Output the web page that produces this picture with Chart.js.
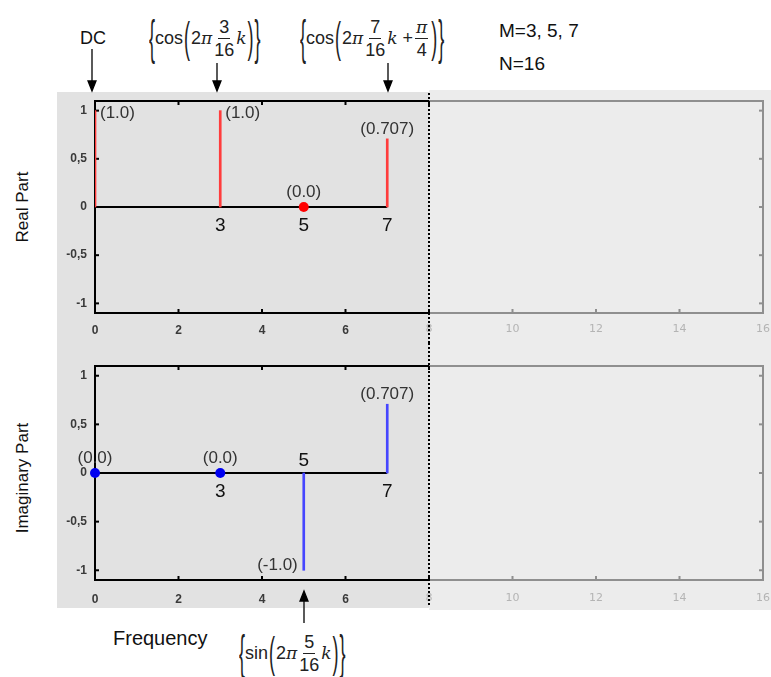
<!DOCTYPE html>
<html>
<head>
<meta charset="utf-8">
<script src="https://cdn.jsdelivr.net/npm/chart.js@4.4.1/dist/chart.umd.min.js"></script>
<style>
body { margin: 0; width: 771px; height: 677px; background: #fff; position: relative; overflow: hidden;
       font-family: "Liberation Sans", Arial, sans-serif; color: #111; }
.abs { position: absolute; }
#bgL { left: 57px; top: 92px; width: 372px; height: 516px; background: #e2e2e2; }
#bgR { left: 429px; top: 90px; width: 342px; height: 520px; background: #ececec; }
canvas { position: absolute; left: 57px; }
#realChart { top: 93px; }
#imagChart { top: 343px; }
.txt { position: absolute; white-space: nowrap; line-height: 1; }
.side { font-size: 17px; transform: translate(-50%, -50%) rotate(-90deg); }
.f { position: absolute; display: flex; align-items: center; font-size: 18px; line-height: 1; color: #222; white-space: nowrap; }
.f .br { display: inline-block; font-size: 18px; transform: scaleY(2.7); font-weight: 300; }
.f .pa { display: inline-block; font-size: 18px; transform: scaleY(2.4); font-weight: 300; margin: 0 1px; }
.f .fr { display: inline-flex; flex-direction: column; align-items: center; margin: 0 2px; }
.f .fr span:first-child { border-bottom: 1px solid #222; padding: 0 1px 2px; }
.f .fr span:last-child { padding-top: 2px; }
.f i { font-family: "DejaVu Serif", serif; font-size: 17px; }
</style>
</head>
<body>
<div id="bgL" class="abs"></div>
<div id="bgR" class="abs"></div>
<canvas id="realChart" width="714" height="250"></canvas>
<canvas id="imagChart" width="714" height="264"></canvas>

<div class="txt" style="left:80px;top:29px;font-size:18px;">DC</div>
<div class="txt" style="left:499px;top:21px;font-size:19px;">M=3, 5, 7</div>
<div class="txt" style="left:499px;top:54px;font-size:19px;">N=16</div>
<div class="txt side" style="left:22px;top:207px;">Real Part</div>
<div class="txt side" style="left:22px;top:478px;">Imaginary Part</div>
<div class="txt" style="left:113px;top:628px;font-size:20px;">Frequency</div>

<div class="f" style="left:149px;top:13px;height:50px;">
  <span class="br">{</span><span>cos</span><span class="pa">(</span><span>2<i>π</i></span>
  <span class="fr"><span>3</span><span>16</span></span><i>k</i><span class="pa">)</span><span class="br">}</span>
</div>
<div class="f" style="left:300px;top:13px;height:50px;">
  <span class="br">{</span><span>cos</span><span class="pa">(</span><span>2<i>π</i></span>
  <span class="fr"><span>7</span><span>16</span></span><i>k</i><span>&nbsp;+</span>
  <span class="fr"><span><i>π</i></span><span>4</span></span><span class="pa">)</span><span class="br">}</span>
</div>
<div class="f" style="left:239px;top:628px;height:50px;">
  <span class="br">{</span><span>sin</span><span class="pa">(</span><span>2<i>π</i></span>
  <span class="fr"><span>5</span><span>16</span></span><i>k</i><span class="pa">)</span><span class="br">}</span>
</div>

<svg class="abs" style="left:0;top:0" width="771" height="677">
  <g stroke="#000" stroke-width="1.3" fill="#000">
    <line x1="92" y1="49" x2="92" y2="84"/><polygon points="88,81 96,81 92,91"/>
    <line x1="217" y1="63" x2="217" y2="84"/><polygon points="213,81 221,81 217,91"/>
    <line x1="388" y1="63" x2="388" y2="84"/><polygon points="384,81 392,81 388,91"/>
    <line x1="304" y1="598" x2="304" y2="623"/><polygon points="300,601 308,601 304,591"/>
  </g>
</svg>

<script>
// DFT of the 16-point sequence, bins 0..7 computed
var freqs = [0, 3, 5, 7];
var realValues = [1.0, 1.0, 0.0, 0.707];
var imagValues = [0.0, 0.0, -1.0, 0.707];
var realLabels = ['(1.0)', '(1.0)', '(0.0)', '(0.707)'];
var imagLabels = ['(0.0)', '(0.0)', '(-1.0)', '(0.707)'];
var binLabels = ['', '3', '5', '7'];

var xTicks = [0, 2, 4, 6, 8, 10, 12, 14, 16];
var yTicks = [-1, -0.5, 0, 0.5, 1];
var yTickLabels = ['-1', '-0,5', '0', '0,5', '1'];
var xMin = 0, xMax = 16, halfN = 8;
var yMin = -1.1, yMax = 1.1;

function line(ctx, x1, y1, x2, y2){
    ctx.beginPath();
    ctx.moveTo(x1, y1);
    ctx.lineTo(x2, y2);
    ctx.stroke();
}

var framePlugin = {
    id: 'frame',
    beforeDatasetsDraw(chart, args, opts){
        var ctx = chart.ctx;
        var xs = chart.scales.x, ys = chart.scales.y;
        var x0 = xs.getPixelForValue(xMin), x8 = xs.getPixelForValue(halfN), x16 = xs.getPixelForValue(xMax);
        var top = ys.getPixelForValue(yMax), bot = ys.getPixelForValue(yMin);
        ctx.save();
        ctx.lineWidth = 2;

        // faded half (bins 8..16)
        ctx.strokeStyle = '#8f8f8f';
        ctx.beginPath();
        ctx.moveTo(x8, top); ctx.lineTo(x16, top); ctx.lineTo(x16, bot); ctx.lineTo(x8, bot);
        ctx.stroke();
        xTicks.forEach(function(v){
            if(v > halfN && v < xMax){
                var px = xs.getPixelForValue(v);
                line(ctx, px, bot, px, bot - 4);
            }
        });
        yTicks.forEach(function(v){
            var py = ys.getPixelForValue(v);
            line(ctx, x16, py, x16 - 4, py);
        });

        // computed half
        ctx.strokeStyle = '#000';
        ctx.beginPath();
        ctx.moveTo(x8, top); ctx.lineTo(x0, top); ctx.lineTo(x0, bot); ctx.lineTo(x8, bot);
        ctx.stroke();
        xTicks.forEach(function(v){
            if(v > xMin && v <= halfN){
                var px = xs.getPixelForValue(v);
                line(ctx, px, bot, px, bot - 4);
                line(ctx, px, top, px, top + 4);
            }
        });
        yTicks.forEach(function(v){
            var py = ys.getPixelForValue(v);
            line(ctx, x0, py, x0 + 4, py);
        });

        ctx.setLineDash([2, 2]);
        line(ctx, x8, 0, x8, chart.height);
        ctx.restore();
    },
    afterDatasetsDraw(chart, args, opts){
        // value labels and bin numbers
        var ctx = chart.ctx;
        var xs = chart.scales.x, ys = chart.scales.y;
        var values = opts.values, labels = opts.labels;
        ctx.save();
        ctx.fillStyle = '#333';
        freqs.forEach(function(k, i){
            var v = values[i];
            var px = xs.getPixelForValue(k);
            var py = ys.getPixelForValue(v);
            var y0 = ys.getPixelForValue(0);
            ctx.font = '17px "Liberation Sans", Arial, sans-serif';
            ctx.textBaseline = 'middle';
            if(v === 0){
                ctx.textAlign = 'center';
                ctx.fillText(labels[i], px, py - 15);
            } else if(v < 0){
                ctx.textAlign = 'right';
                ctx.fillText(labels[i], px - 6, py - 5);
            } else if(v === 1){
                ctx.textAlign = 'left';
                ctx.fillText(labels[i], px + 5, py + 3);
            } else {
                ctx.textAlign = 'center';
                ctx.fillText(labels[i], px, py - 10);
            }
            if(binLabels[i]){
                ctx.font = '19px "Liberation Sans", Arial, sans-serif';
                ctx.fillStyle = '#111';
                ctx.textAlign = 'center';
                ctx.fillText(binLabels[i], px, v < 0 ? y0 - 12 : y0 + 19);
                ctx.fillStyle = '#333';
            }
        });
        ctx.restore();
    }
};

function buildDatasets(values, stemColor, dotColor){
    var stems = [], dots = [];
    for(var i = 0; i < freqs.length; i++){
        if(values[i] === 0) dots.push({x: freqs[i], y: 0});
        else stems.push({x: freqs[i], y: values[i]});
    }
    return [
        {
            type: 'line',
            data: [{x: freqs[0], y: 0}, {x: freqs[freqs.length - 1], y: 0}],
            borderColor: '#000',
            borderWidth: 2,
            pointRadius: 0,
            order: 3
        },
        {
            type: 'bar',
            data: stems,
            backgroundColor: stemColor,
            barThickness: 2,
            grouped: false,
            order: 2
        },
        {
            type: 'scatter',
            data: dots,
            backgroundColor: dotColor,
            borderWidth: 0,
            pointRadius: 5,
            clip: false,
            order: 1
        }
    ];
}

function drawChart(chartID, values, labels, stemColor, dotColor, padTop, axisH, tickPad){
    var ctx = document.getElementById(chartID);
    var config = {
        type: 'scatter',
        data: { datasets: buildDatasets(values, stemColor, dotColor) },
        options: {
            responsive: false,
            animation: false,
            events: [],
            layout: { padding: { top: padTop, right: 8, left: 0, bottom: 0 } },
            plugins: {
                legend: { display: false },
                tooltip: { enabled: false },
                frame: { values: values, labels: labels }
            },
            scales: {
                x: {
                    type: 'linear',
                    min: xMin,
                    max: xMax,
                    offset: false,
                    grid: { display: false, drawTicks: false, offset: false },
                    border: { display: false },
                    afterBuildTicks: function(s){ s.ticks = xTicks.map(function(v){ return {value: v}; }); },
                    afterFit: function(s){ s.height = axisH; s.paddingLeft = 0; s.paddingRight = 0; },
                    ticks: {
                        padding: tickPad,
                        maxRotation: 0,
                        autoSkip: false,
                        color: function(c){ return c.tick && c.tick.value < halfN ? '#3a3a3a' : '#b4b4b4'; },
                        font: function(c){
                            if(c.tick && c.tick.value < halfN) return { family: '"Liberation Sans", Arial', size: 12, weight: 'bold' };
                            return { family: '"DejaVu Sans", Verdana', size: 11 };
                        }
                    }
                },
                y: {
                    type: 'linear',
                    min: yMin,
                    max: yMax,
                    grid: { display: false, drawTicks: false },
                    border: { display: false },
                    afterBuildTicks: function(s){ s.ticks = yTicks.map(function(v){ return {value: v}; }); },
                    afterFit: function(s){ s.width = 38; s.paddingTop = 0; s.paddingBottom = 0; },
                    ticks: {
                        padding: 8,
                        color: '#3a3a3a',
                        font: { family: '"Liberation Sans", Arial', size: 12, weight: 'bold' },
                        callback: function(v){ return yTickLabels[yTicks.indexOf(v)]; }
                    }
                }
            }
        },
        plugins: [framePlugin]
    };
    new Chart(ctx, config);
}

drawChart('realChart', realValues, realLabels, '#ff3c3c', '#ff0000', 8, 30, 10);
drawChart('imagChart', imagValues, imagLabels, '#4646ff', '#0000f0', 23, 27, 12);
</script>
</body>
</html>
